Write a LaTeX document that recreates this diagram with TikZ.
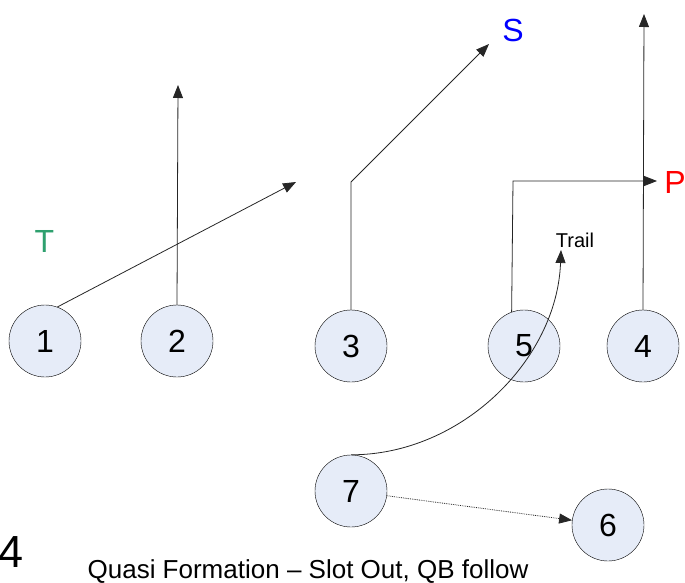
\documentclass[tikz,border=0pt]{standalone}
\usepackage{fontspec}
\setmainfont{Liberation Sans}
\usetikzlibrary{arrows.meta}
\definecolor{plfill}{RGB}{230,236,248}
\definecolor{tgreen}{RGB}{46,160,110}
\begin{document}
\begin{tikzpicture}[x=1pt, y=-1pt,
  player/.style={circle, draw, fill=plfill, minimum size=72pt, inner sep=0pt, font=\fontsize{32}{32}\selectfont},
  route/.style={-{Triangle[length=13pt,width=10pt]}, line width=0.8pt, black!85},
  lbl/.style={font=\fontsize{32}{32}\selectfont}]
\useasboundingbox (0,0) rectangle (685,583);
\node[player] (pl1) at (45,341){1};
\node[player] (pl2) at (177,341){2};
\node[player] (pl3) at (351,346){3};
\node[player] (pl5) at (524,346){5};
\node[player] (pl4) at (643,346){4};
\node[player] (pl7) at (351,491){7};
\node[player] (pl6) at (608,525){6};
\node[lbl, tgreen] (tlbl) at (44.5,241.5){T};
\node[lbl, blue] (slbl) at (513,30){S};
\node[lbl, red] (plbl) at (675,182){P};
\node[font=\fontsize{20}{20}\selectfont] (trail) at (575,240){Trail};
\node[font=\fontsize{45}{45}\selectfont] (play) at (11.5,552){4};
\node[font=\fontsize{26}{26}\selectfont, anchor=base] (title) at (308,578){Quasi Formation -- Slot Out, QB follow};
\coordinate (tid1) at (296,182);
\coordinate (tid2) at (178,85);
\coordinate (tid3a) at (351,182);
\coordinate (tid3) at (489,44);
\coordinate (tid5a) at (513,181);
\coordinate (tid5) at (657,181);
\coordinate (tid4) at (644,14);
\coordinate (tid7) at (561,250);
\draw[route](pl1.70) -- (tid1);
\draw[route](pl2.north) -- (tid2);
\draw[route](pl3.north) -- (tid3a) -- (tid3);
\draw[route](pl5.110) -- (tid5a) -- (tid5);
\draw[route](pl4.north) -- (tid4);
\draw[route](pl7.north) .. controls (461,455) and (557,360) .. (tid7);
\draw[route, densely dotted](pl7) -- (pl6);
\end{tikzpicture}
\end{document}
